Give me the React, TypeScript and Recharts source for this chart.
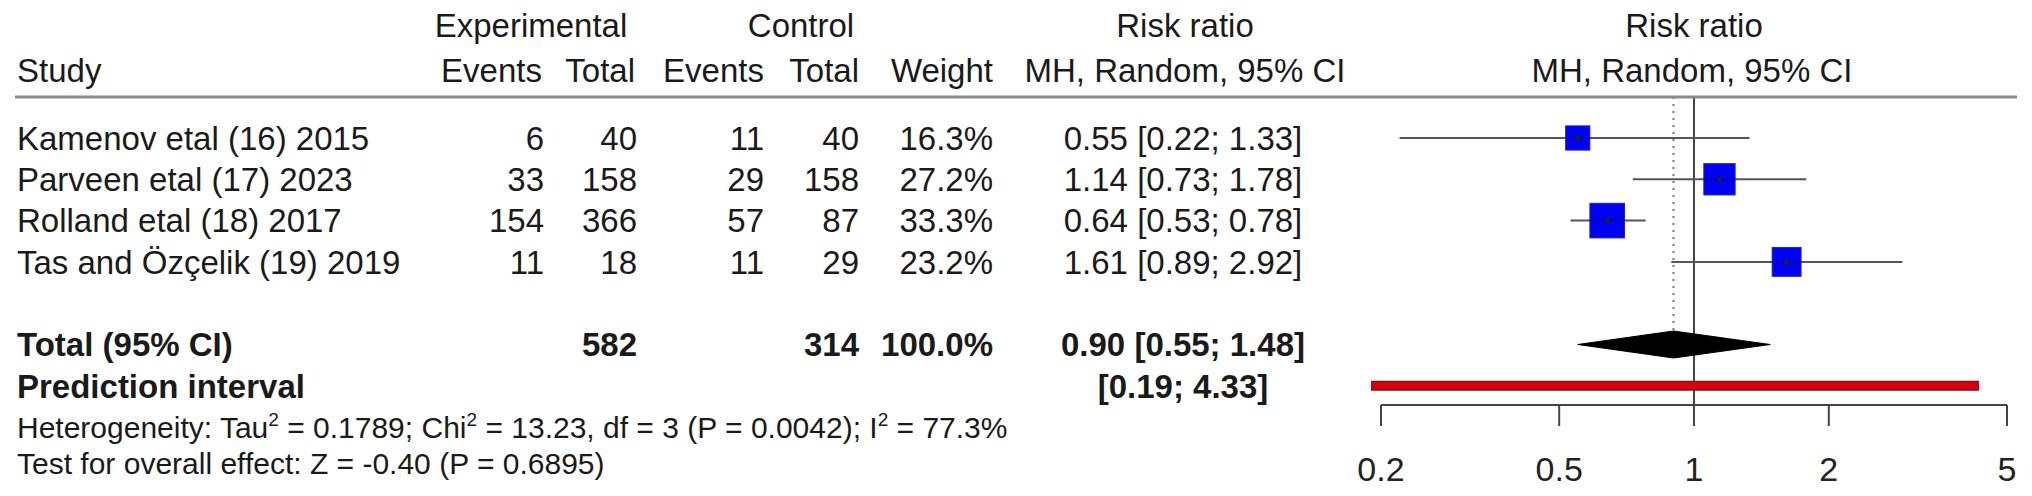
import React from 'react'
import { ComposedChart, XAxis, YAxis, Scatter, ErrorBar, ReferenceLine } from 'recharts'

// study rows
const studyNames = [
  'Kamenov etal (16) 2015',
  'Parveen etal (17) 2023',
  'Rolland etal (18) 2017',
  'Tas and Özçelik (19) 2019',
]
const expEvents = [6, 33, 154, 11]
const expTotal = [40, 158, 366, 18]
const ctrlEvents = [11, 29, 57, 11]
const ctrlTotal = [40, 158, 87, 29]
const weights = [16.3, 27.2, 33.3, 23.2]
const riskRatio = [0.55, 1.14, 0.64, 1.61]
const ciLower = [0.22, 0.73, 0.53, 0.89]
const ciUpper = [1.33, 1.78, 0.78, 2.92]

// pooled result
const totalExp = 582
const totalCtrl = 314
const totalWeight = 100.0
const pooledRR = 0.9
const pooledCI = [0.55, 1.48]
const predInterval = [0.19, 4.33]

const axisTicks = [0.2, 0.5, 1, 2, 5]

// layout
const W = 2032
const H = 496
const FONT = '"Liberation Sans", Arial, Helvetica, sans-serif'
const FS = 33
const FS_NOTE = 30
const ROW0 = 138
const ROW_H = 41.3
const PLOT_TOP = 97
const PLOT_BOTTOM = 405
const PLOT_LEFT = 1381
const PLOT_RIGHT = 2007
const TOTAL_ROW = 5
const PRED_ROW = 6
const DIAMOND_HALF = 13.5 / ROW_H

const yDomain = [(PLOT_TOP - ROW0) / ROW_H, (PLOT_BOTTOM - ROW0) / ROW_H]
const rowY = (i: number) => ROW0 + ROW_H * i

const fmt = (v: number) => v.toFixed(2)
const ciText = (rr: number, lo: number, hi: number) => `${fmt(rr)} [${fmt(lo)}; ${fmt(hi)}]`

const studyPoints = studyNames.map((name, i) => ({
  name,
  x: riskRatio[i],
  y: i,
  w: weights[i],
  err: [riskRatio[i] - ciLower[i], ciUpper[i] - riskRatio[i]],
}))

const diamondPoints = [
  { x: pooledCI[0], y: TOTAL_ROW },
  { x: pooledRR, y: TOTAL_ROW - DIAMOND_HALF },
  { x: pooledCI[1], y: TOTAL_ROW },
  { x: pooledRR, y: TOTAL_ROW + DIAMOND_HALF },
]

const StudyBox = (props: any) => {
  const { cx, cy, payload } = props
  const s = 6 * Math.sqrt(payload.w)
  return (
    <g>
      <rect x={cx - s / 2} y={cy - s / 2} width={s} height={s} fill="#0000f4" stroke="#2323b8" strokeWidth={1} />
      <line x1={cx - s / 2} x2={cx + s / 2} y1={cy} y2={cy} stroke="#000" strokeOpacity={0.25} strokeWidth={2} />
      <circle cx={cx} cy={cy} r={2.5} fill="#222" />
    </g>
  )
}

const DiamondShape = (props: any) => {
  const pts = (props.points || []).map((p: any) => `${p.x},${p.y}`).join(' ')
  return <polygon points={pts} fill="#000" stroke="#000" strokeWidth={1} />
}

const T = ({ x, y, anchor = 'start', bold = false, size = FS, children }: any) => (
  <text
    x={x}
    y={y + size * 0.36}
    textAnchor={anchor}
    fontSize={size}
    fontWeight={bold ? 'bold' : 'normal'}
    fill="#1a1a1a"
    fontFamily={FONT}
  >
    {children}
  </text>
)

// column positions
const COL = { study: 17, expEv: 544, expTot: 637, ctrlEv: 764, ctrlTot: 859, weight: 993, ci: 1183 }

export default function App() {
  return (
    <div style={{ position: 'relative', width: W, height: H, background: '#fff', fontFamily: FONT }}>
      <style>{'body{margin:0}'}</style>
      <ComposedChart
        width={W}
        height={H}
        margin={{ top: PLOT_TOP, right: W - PLOT_RIGHT, bottom: 0, left: PLOT_LEFT }}
      >
        <XAxis
          type="number"
          dataKey="x"
          scale="log"
          domain={[0.2, 5]}
          ticks={axisTicks}
          interval={0}
          allowDataOverflow
          height={H - PLOT_BOTTOM}
          tickSize={21}
          tickMargin={31}
          axisLine={{ stroke: '#444', strokeWidth: 2 }}
          tickLine={{ stroke: '#444', strokeWidth: 2 }}
          tick={{ fontSize: 34, fill: '#222', fontFamily: FONT }}
          tickFormatter={(v) => String(v)}
        />
        <YAxis type="number" dataKey="y" domain={yDomain} reversed hide allowDataOverflow />

        <ReferenceLine
          segment={[{ x: pooledRR, y: yDomain[0] }, { x: pooledRR, y: TOTAL_ROW - DIAMOND_HALF }]}
          stroke="#777"
          strokeWidth={2}
          strokeDasharray="2 5"
        />
        <ReferenceLine x={1} stroke="#444" strokeWidth={2} />
        <ReferenceLine
          segment={[{ x: predInterval[0], y: PRED_ROW }, { x: predInterval[1], y: PRED_ROW }]}
          ifOverflow="visible"
          stroke="#6e1010"
          strokeWidth={10}
        />
        <ReferenceLine
          segment={[{ x: predInterval[0], y: PRED_ROW }, { x: predInterval[1], y: PRED_ROW }]}
          ifOverflow="visible"
          stroke="#d20010"
          strokeWidth={8}
        />

        <Scatter data={studyPoints} shape={StudyBox} isAnimationActive={false}>
          <ErrorBar dataKey="err" direction="x" width={0} stroke="#555" strokeWidth={2} isAnimationActive={false} />
        </Scatter>
        <Scatter
          data={diamondPoints}
          shape={() => <g />}
          line={DiamondShape}
          lineType="joint"
          isAnimationActive={false}
        />
      </ComposedChart>

      <svg width={W} height={H} style={{ position: 'absolute', left: 0, top: 0, pointerEvents: 'none' }}>
        {/* header */}
        <T x={531} y={25} anchor="middle">Experimental</T>
        <T x={801} y={25} anchor="middle">Control</T>
        <T x={1185} y={25} anchor="middle">Risk ratio</T>
        <T x={1694} y={25} anchor="middle">Risk ratio</T>
        <T x={COL.study} y={70}>Study</T>
        <T x={COL.expEv - 2} y={70} anchor="end">Events</T>
        <T x={COL.expTot - 2} y={70} anchor="end">Total</T>
        <T x={COL.ctrlEv} y={70} anchor="end">Events</T>
        <T x={COL.ctrlTot} y={70} anchor="end">Total</T>
        <T x={COL.weight} y={70} anchor="end">Weight</T>
        <T x={1185} y={70} anchor="middle">MH, Random, 95% CI</T>
        <T x={1692} y={70} anchor="middle">MH, Random, 95% CI</T>
        <line x1={15} x2={2017} y1={PLOT_TOP} y2={PLOT_TOP} stroke="#8a8a8a" strokeWidth={3} />

        {/* studies */}
        {studyNames.map((name, i) => (
          <g key={name}>
            <T x={COL.study} y={rowY(i)}>{name}</T>
            <T x={COL.expEv} y={rowY(i)} anchor="end">{expEvents[i]}</T>
            <T x={COL.expTot} y={rowY(i)} anchor="end">{expTotal[i]}</T>
            <T x={COL.ctrlEv} y={rowY(i)} anchor="end">{ctrlEvents[i]}</T>
            <T x={COL.ctrlTot} y={rowY(i)} anchor="end">{ctrlTotal[i]}</T>
            <T x={COL.weight} y={rowY(i)} anchor="end">{`${weights[i].toFixed(1)}%`}</T>
            <T x={COL.ci} y={rowY(i)} anchor="middle">{ciText(riskRatio[i], ciLower[i], ciUpper[i])}</T>
          </g>
        ))}

        {/* pooled */}
        <T x={COL.study} y={rowY(TOTAL_ROW)} bold>Total (95% CI)</T>
        <T x={COL.expTot} y={rowY(TOTAL_ROW)} anchor="end" bold>{totalExp}</T>
        <T x={COL.ctrlTot} y={rowY(TOTAL_ROW)} anchor="end" bold>{totalCtrl}</T>
        <T x={COL.weight} y={rowY(TOTAL_ROW)} anchor="end" bold>{`${totalWeight.toFixed(1)}%`}</T>
        <T x={COL.ci} y={rowY(TOTAL_ROW)} anchor="middle" bold>{ciText(pooledRR, pooledCI[0], pooledCI[1])}</T>
        <T x={COL.study} y={rowY(PRED_ROW)} bold>Prediction interval</T>
        <T x={COL.ci} y={rowY(PRED_ROW)} anchor="middle" bold>{`[${fmt(predInterval[0])}; ${fmt(predInterval[1])}]`}</T>

        {/* footnotes */}
        <text x={COL.study} y={427 + FS_NOTE * 0.36} fontSize={FS_NOTE} fill="#1a1a1a" fontFamily={FONT}>
          Heterogeneity: Tau<tspan dy={-12} fontSize={19}>2</tspan>
          <tspan dy={12}> = 0.1789; Chi</tspan>
          <tspan dy={-12} fontSize={19}>2</tspan>
          <tspan dy={12}> = 13.23, df = 3 (P = 0.0042); I</tspan>
          <tspan dy={-12} fontSize={19}>2</tspan>
          <tspan dy={12}> = 77.3%</tspan>
        </text>
        <T x={COL.study} y={463} size={FS_NOTE}>Test for overall effect: Z = -0.40 (P = 0.6895)</T>
      </svg>
    </div>
  )
}
